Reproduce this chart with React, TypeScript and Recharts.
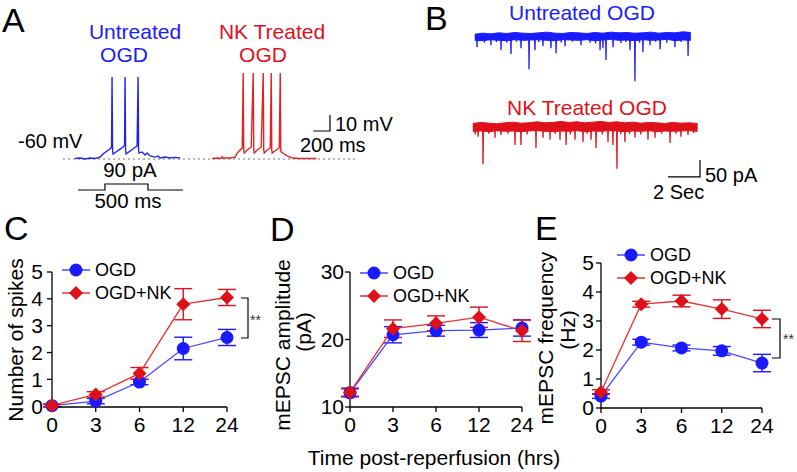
import React from "react";
import {
  LineChart,
  ComposedChart,
  Line,
  Area,
  XAxis,
  YAxis,
  ErrorBar,
  Legend,
  ReferenceLine,
} from "recharts";

const FONT = "'Liberation Sans', Arial, sans-serif";
const BLUE = "#1a1aff";
const RED = "#e0101a";
const BLUE_LINE = "#4646ff";
const RED_LINE = "#e33434";

// ---- panels C, D, E ----
const hours = ["0", "3", "6", "12", "24"];

const spikesOgd = [0.02, 0.19, 0.9, 2.15, 2.56];
const spikesOgdErr = [0.05, 0.1, 0.1, 0.42, 0.3];
const spikesNk = [0.03, 0.44, 1.22, 3.8, 4.05];
const spikesNkErr = [0.05, 0.1, 0.22, 0.58, 0.3];

const ampOgd = [12.1, 20.7, 21.3, 21.4, 21.7];
const ampOgdErr = [0.6, 1.2, 0.8, 1.1, 1.2];
const ampNk = [12.2, 21.6, 22.4, 23.3, 21.3];
const ampNkErr = [0.6, 1.3, 1.1, 1.5, 1.6];

const freqOgd = [0.41, 2.27, 2.07, 1.97, 1.55];
const freqOgdErr = [0.08, 0.1, 0.1, 0.15, 0.3];
const freqNk = [0.55, 3.58, 3.69, 3.41, 3.07];
const freqNkErr = [0.08, 0.1, 0.2, 0.32, 0.3];

// ---- panel A: current-clamp traces (ms, mV) ----
const untreatedAp = [
  [144, -59.7], [204, -59.4], [264, -60], [324, -59.4], [384, -59.7],
  [444, -58.8], [480, -56.9], [528, -55], [564, -53.8], [582, -52.5],
  [588, -8.75], [594, -54.4], [600, -56.9], [636, -55.6], [684, -53.8],
  [720, -52.5], [738, -51.3], [744, -8.75], [750, -54.4], [756, -56.9],
  [804, -55], [852, -53.1], [888, -51.9], [900, -8.75], [906, -54.4],
  [912, -56.3], [948, -55.6], [984, -57.5], [1008, -56.3], [1044, -58.1],
  [1104, -58.8], [1140, -58.1], [1164, -59.4], [1224, -58.8], [1284, -59.4],
  [1344, -59], [1404, -59.4],
];
const nkAp = [
  [1788, -59.7], [1860, -59.4], [1896, -59.6], [1908, -58.6], [1920, -59.5],
  [1944, -59.4], [2004, -59.4], [2064, -58.8], [2088, -56.3], [2124, -54.4],
  [2148, -53.1], [2160, -6.25], [2166, -54.4], [2172, -56.3], [2208, -54.4],
  [2256, -52.5], [2280, -6.25], [2286, -54.4], [2292, -56.3], [2328, -54.4],
  [2376, -52.5], [2400, -6.25], [2406, -54.4], [2412, -56.3], [2448, -54.4],
  [2484, -53.1], [2496, -6.25], [2502, -54.4], [2508, -56.3], [2556, -54.4],
  [2592, -53.1], [2604, -6.25], [2610, -54.4], [2616, -55.6], [2652, -56.9],
  [2688, -58.1], [2748, -59.4], [2844, -59.7], [2940, -59.7], [3036, -59.7],
];
const apScaleBar = [[3000, -42.5], [3200, -42.5], [3200, -32.5]];
const stimulus = [[0, 0], [313, 0], [313, 90], [813, 90], [813, 0], [1220, 0]];

// ---- panel B: mEPSC traces (s, pA) ----
const untreatedBandT = [
  0.3, 0.8, 1.3, 1.8, 2.3, 2.8, 3.3, 3.8, 4.3, 4.8, 5.3, 5.8, 6.3, 6.8,
  7.3, 7.8, 8.3, 8.8, 9.3, 9.8, 10.3, 10.8, 11.3, 11.8, 12.3, 12.8, 13.3, 13.8,
];
const untreatedBandHi = [
  7, 10, 8, 11, 9, 12, 10, 9, 11, 13, 10, 9, 12, 11, 9, 12, 10, 13, 11, 12,
  10, 11, 13, 10, 12, 11, 14, 12,
];
const untreatedBandLo = [
  -11, -12, -9, -11, -12, -9, -11, -10, -9, -11, -12, -9, -10, -11, -9, -12,
  -10, -8, -11, -10, -12, -9, -11, -10, -8, -12, -10, -11,
];
const untreatedEvents = [
  [0.44, -31], [0.9, -18], [1.31, -25], [1.65, -16], [1.94, -40], [2.3, -18],
  [2.56, -51], [2.9, -15], [3.19, -34], [3.69, -96], [4.06, -40], [4.3, -16],
  [4.56, -28], [5.06, -34], [5.38, -49], [5.7, -17], [5.94, -28], [6.4, -15],
  [6.94, -25], [7.5, -18], [7.85, -20], [8.13, -40], [8.31, -34], [8.5, -69],
  [8.94, -31], [9.44, -19], [9.75, -16], [10.0, -40], [10.31, -131], [10.6, -18],
  [10.81, -46], [11.25, -25], [11.6, -15], [11.88, -37], [12.3, -18], [12.81, -31],
  [13.2, -16], [13.63, -57],
];

const nkBandT = [
  0.3, 0.8, 1.3, 1.8, 2.3, 2.8, 3.3, 3.8, 4.3, 4.8, 5.3, 5.8, 6.3, 6.8, 7.3,
  7.8, 8.3, 8.8, 9.3, 9.8, 10.3, 10.8, 11.3, 11.8, 12.3, 12.8, 13.3, 13.8, 14.35,
];
const nkBandHi = [
  10, 13, 11, 9, 12, 14, 11, 12, 15, 12, 13, 16, 13, 15, 12, 14, 16, 13, 15,
  12, 14, 11, 13, 12, 10, 13, 11, 12, 10,
];
const nkBandLo = [
  -13, -12, -14, -11, -13, -12, -14, -12, -11, -13, -14, -12, -13, -11, -14,
  -12, -13, -11, -12, -14, -12, -13, -11, -14, -12, -13, -12, -11, -13,
];
const nkEvents = [
  [0.45, -22], [0.63, -29], [0.94, -110], [1.3, -20], [1.69, -32], [2.06, -24],
  [2.5, -20], [2.94, -53], [3.31, -53], [3.7, -22], [4.25, -62], [4.69, -32],
  [5.13, -38], [5.45, -20], [5.75, -38], [6.13, -53], [6.4, -22], [6.69, -38],
  [7.19, -44], [7.45, -20], [7.69, -38], [8.0, -62], [8.4, -22], [8.75, -44],
  [9.06, -53], [9.31, -123], [9.55, -22], [9.81, -44], [10.1, -20], [10.44, -32],
  [10.8, -22], [11.25, -38], [11.69, -32], [12.1, -20], [12.63, -47], [13.0, -20],
  [13.31, -29], [13.75, -24], [14.1, -18],
];
const epscScaleBar = [[12.5, -147], [14.5, -147], [14.5, -97]];

// ---- helpers ----
const pairs = (arr: number[][]) => arr.map(([t, v]) => ({ t, v }));
const band = (ts: number[], lo: number[], hi: number[]) =>
  ts.map((t, i) => ({ t, band: [lo[i], hi[i]] }));
const eventTrace = (ts: number[], events: number[][]) => {
  const out = [{ t: ts[0], v: 0 }];
  events.forEach(([t, a]) => {
    out.push({ t: t - 0.02, v: 0 }, { t, v: a }, { t: t + 0.02, v: 0 });
  });
  out.push({ t: ts[ts.length - 1], v: 0 });
  return out;
};
const table = (a: number[], ae: number[], b: number[], be: number[]) =>
  hours.map((h, i) => ({ h, ogd: a[i], ogdErr: ae[i], nk: b[i], nkErr: be[i] }));

const Diamond = (props: any) => {
  const { cx, cy, index } = props;
  if (cx == null || cy == null) return null;
  return (
    <polygon
      key={`dm-${index}`}
      points={`${cx},${cy - 7} ${cx + 7},${cy} ${cx},${cy + 7} ${cx - 7},${cy}`}
      fill={RED}
    />
  );
};

const LegendBox = () => (
  <svg width={130} height={46} style={{ display: "block", overflow: "visible" }}>
    <line x1={0} y1={8} x2={28} y2={8} stroke={BLUE_LINE} strokeWidth={1.5} />
    <circle cx={14} cy={8} r={6.5} fill={BLUE} />
    <text x={33} y={8} dy="0.36em" fontSize={18} fontFamily={FONT} fill="#000">
      OGD
    </text>
    <line x1={0} y1={31} x2={28} y2={31} stroke={RED_LINE} strokeWidth={1.5} />
    <polygon points="14,24 21,31 14,38 7,31" fill={RED} />
    <text x={33} y={31} dy="0.36em" fontSize={18} fontFamily={FONT} fill="#000">
      OGD+NK
    </text>
  </svg>
);

type PanelProps = {
  data: any[];
  left: number;
  top: number;
  width: number;
  marginTop: number;
  marginRight: number;
  yWidth: number;
  xHeight: number;
  domain: number[];
  ticks: number[];
  tickMargin: number;
  legendLeft: number;
  legendTop: number;
};

const Panel = (p: PanelProps) => (
  <div style={{ position: "absolute", left: p.left, top: p.top }}>
    <LineChart
      width={p.width}
      height={215}
      data={p.data}
      margin={{ top: p.marginTop, right: p.marginRight, left: 0, bottom: 0 }}
    >
      <XAxis
        dataKey="h"
        height={p.xHeight}
        interval={0}
        tickSize={5}
        tickMargin={5}
        axisLine={{ stroke: "#000", strokeWidth: 1.3 }}
        tickLine={{ stroke: "#000", strokeWidth: 1.3 }}
        tick={{ fill: "#000", fontSize: 21, fontFamily: FONT }}
      />
      <YAxis
        type="number"
        width={p.yWidth}
        domain={p.domain}
        ticks={p.ticks}
        interval={0}
        tickSize={5}
        tickMargin={p.tickMargin}
        axisLine={{ stroke: "#000", strokeWidth: 1.3 }}
        tickLine={{ stroke: "#000", strokeWidth: 1.3 }}
        tick={{ fill: "#000", fontSize: 21, fontFamily: FONT }}
      />
      <Legend
        layout="vertical"
        align="center"
        verticalAlign="middle"
        content={() => <LegendBox />}
        wrapperStyle={{ left: p.legendLeft, top: p.legendTop, width: 130, height: 46 }}
      />
      <Line
        dataKey="ogd"
        type="linear"
        stroke={BLUE_LINE}
        strokeWidth={1.3}
        dot={{ r: 6.5, fill: BLUE, stroke: "none" }}
        activeDot={false}
        isAnimationActive={false}
      >
        <ErrorBar dataKey="ogdErr" width={9} strokeWidth={1.4} stroke={BLUE} direction="y" />
      </Line>
      <Line
        dataKey="nk"
        type="linear"
        stroke={RED_LINE}
        strokeWidth={1.3}
        dot={Diamond}
        activeDot={false}
        isAnimationActive={false}
      >
        <ErrorBar dataKey="nkErr" width={9} strokeWidth={1.4} stroke={RED} direction="y" />
      </Line>
    </LineChart>
  </div>
);

const txt = { fontFamily: FONT, fill: "#000" };

export default function App() {
  return (
    <div
      style={{
        position: "absolute",
        left: 0,
        top: 0,
        width: 797,
        height: 472,
        background: "#fff",
        overflow: "hidden",
      }}
    >
      {/* A: action potential traces */}
      <div style={{ position: "absolute", left: 63, top: 63 }}>
        <LineChart width={292} height={112} margin={{ top: 0, right: 0, left: 0, bottom: 0 }}>
          <XAxis type="number" dataKey="t" domain={[0, 3500]} hide />
          <YAxis type="number" domain={[-70, 0]} hide />
          <ReferenceLine y={-60} stroke="#777" strokeWidth={1.2} strokeDasharray="2 3" />
          <Line data={pairs(untreatedAp)} dataKey="v" type="linear" stroke="#2222ee" strokeWidth={1.4} dot={false} activeDot={false} isAnimationActive={false} />
          <Line data={pairs(nkAp)} dataKey="v" type="linear" stroke="#e02424" strokeWidth={1.4} dot={false} activeDot={false} isAnimationActive={false} />
          <Line data={pairs(apScaleBar)} dataKey="v" type="linear" stroke="#000" strokeWidth={1.2} dot={false} activeDot={false} isAnimationActive={false} />
        </LineChart>
      </div>
      <div style={{ position: "absolute", left: 78, top: 180 }}>
        <LineChart width={105} height={15} margin={{ top: 0, right: 0, left: 0, bottom: 0 }}>
          <XAxis type="number" dataKey="t" domain={[0, 1220]} hide />
          <YAxis type="number" domain={[-75, 150]} hide />
          <Line data={pairs(stimulus)} dataKey="v" type="linear" stroke="#000" strokeWidth={1.2} dot={false} activeDot={false} isAnimationActive={false} />
        </LineChart>
      </div>

      {/* B: mEPSC traces */}
      <div style={{ position: "absolute", left: 470, top: 25 }}>
        <ComposedChart width={230} height={60} margin={{ top: 0, right: 0, left: 0, bottom: 0 }}>
          <XAxis type="number" dataKey="t" domain={[0, 14.375]} hide />
          <YAxis type="number" domain={[-142, 34]} hide />
          <Area data={band(untreatedBandT, untreatedBandLo, untreatedBandHi)} dataKey="band" type="linear" stroke={BLUE} strokeWidth={1} fill={BLUE} fillOpacity={1} dot={false} activeDot={false} isAnimationActive={false} />
          <Line data={eventTrace(untreatedBandT, untreatedEvents)} dataKey="v" type="linear" stroke={BLUE} strokeWidth={1.3} dot={false} activeDot={false} isAnimationActive={false} />
        </ComposedChart>
      </div>
      <div style={{ position: "absolute", left: 468, top: 100 }}>
        <ComposedChart width={235} height={80} margin={{ top: 0, right: 0, left: 0, bottom: 0 }}>
          <XAxis type="number" dataKey="t" domain={[0, 14.6875]} hide />
          <YAxis type="number" domain={[-156, 79]} hide />
          <Area data={band(nkBandT, nkBandLo, nkBandHi)} dataKey="band" type="linear" stroke={RED} strokeWidth={1} fill={RED} fillOpacity={1} dot={false} activeDot={false} isAnimationActive={false} />
          <Line data={eventTrace(nkBandT, nkEvents)} dataKey="v" type="linear" stroke={RED} strokeWidth={1.3} dot={false} activeDot={false} isAnimationActive={false} />
          <Line data={pairs(epscScaleBar)} dataKey="v" type="linear" stroke="#000" strokeWidth={1.2} dot={false} activeDot={false} isAnimationActive={false} />
        </ComposedChart>
      </div>

      {/* C, D, E */}
      <Panel
        data={table(spikesOgd, spikesOgdErr, spikesNk, spikesNkErr)}
        left={0} top={230} width={270} marginTop={42} marginRight={43}
        yWidth={52} xHeight={38} domain={[0, 5]} ticks={[0, 1, 2, 3, 4, 5]}
        tickMargin={4} legendLeft={62} legendTop={32}
      />
      <Panel
        data={table(ampOgd, ampOgdErr, ampNk, ampNkErr)}
        left={260} top={230} width={285} marginTop={42} marginRight={23}
        yWidth={90} xHeight={38} domain={[10, 30]} ticks={[10, 20, 30]}
        tickMargin={1} legendLeft={100} legendTop={35}
      />
      <Panel
        data={table(freqOgd, freqOgdErr, freqNk, freqNkErr)}
        left={520} top={230} width={277} marginTop={33} marginRight={35}
        yWidth={81} xHeight={37} domain={[0, 5]} ticks={[0, 1, 2, 3, 4, 5]}
        tickMargin={2} legendLeft={97} legendTop={17}
      />

      {/* text and annotations */}
      <svg
        width={797}
        height={472}
        style={{ position: "absolute", left: 0, top: 0, pointerEvents: "none" }}
      >
        <text x={2} y={32} fontSize={34} {...txt}>A</text>
        <text x={425} y={30} fontSize={34} {...txt}>B</text>
        <text x={4} y={240} fontSize={34} {...txt}>C</text>
        <text x={270} y={241} fontSize={34} {...txt}>D</text>
        <text x={535} y={240} fontSize={34} {...txt}>E</text>

        <text x={135} y={39} fontSize={21} textAnchor="middle" fontFamily={FONT} fill={BLUE}>Untreated</text>
        <text x={124} y={62} fontSize={21} textAnchor="middle" fontFamily={FONT} fill={BLUE}>OGD</text>
        <text x={272} y={39} fontSize={21} textAnchor="middle" fontFamily={FONT} fill={RED}>NK Treated</text>
        <text x={263} y={62} fontSize={21} textAnchor="middle" fontFamily={FONT} fill={RED}>OGD</text>
        <text x={18} y={148} fontSize={20} {...txt}>-60 mV</text>
        <text x={335} y={131} fontSize={20} {...txt}>10 mV</text>
        <text x={300} y={152} fontSize={20} {...txt}>200 ms</text>
        <text x={130} y={177} fontSize={20.5} textAnchor="middle" {...txt}>90 pA</text>
        <text x={128} y={208} fontSize={20.5} textAnchor="middle" {...txt}>500 ms</text>

        <text x={582} y={20} fontSize={21} textAnchor="middle" fontFamily={FONT} fill={BLUE}>Untreated OGD</text>
        <text x={587} y={115} fontSize={21} textAnchor="middle" fontFamily={FONT} fill={RED}>NK Treated OGD</text>
        <text x={705} y={182} fontSize={20} {...txt}>50 pA</text>
        <text x={653} y={199} fontSize={20} {...txt}>2 Sec</text>

        <text transform="translate(23,340) rotate(-90)" fontSize={21} textAnchor="middle" {...txt}>Number of spikes</text>
        <text transform="translate(290,345) rotate(-90)" fontSize={21} textAnchor="middle" {...txt}>mEPSC amplitude</text>
        <text transform="translate(311,332) rotate(-90)" fontSize={21} textAnchor="middle" {...txt}>(pA)</text>
        <text transform="translate(553,338) rotate(-90)" fontSize={21} textAnchor="middle" {...txt}>mEPSC frequency</text>
        <text transform="translate(575,330) rotate(-90)" fontSize={21} textAnchor="middle" {...txt}>(Hz)</text>
        <text x={434} y={465} fontSize={21} textAnchor="middle" {...txt}>Time post-reperfusion (hrs)</text>

        <path d="M241,298 H248 V338 H241" fill="none" stroke="#000" strokeWidth={1.2} />
        <text x={250} y={325} fontSize={14} fontFamily={FONT} fill="#333">**</text>
        <path d="M772,319 H780 V358 H772" fill="none" stroke="#000" strokeWidth={1.2} />
        <text x={783} y={344} fontSize={14} fontFamily={FONT} fill="#333">**</text>
      </svg>
    </div>
  );
}
